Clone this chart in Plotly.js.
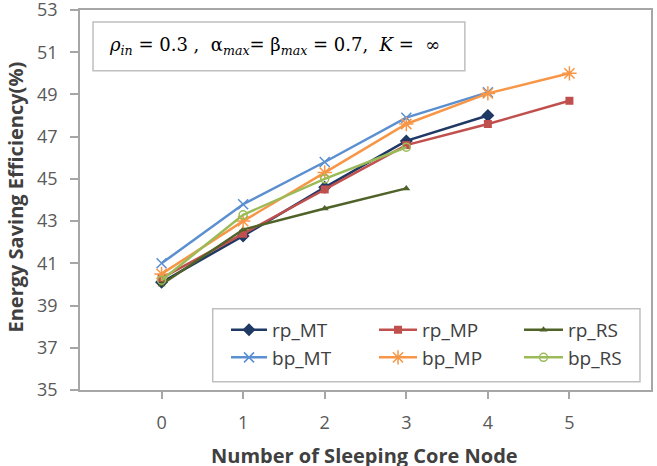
<!DOCTYPE html>
<html><head><meta charset="utf-8">
<script src="https://cdn.plot.ly/plotly-3.0.1.min.js"></script>
<style>html,body{margin:0;padding:0;background:#fff}#chart{width:657px;height:466px}</style>
</head><body><div id="chart"></div>
<script>
const nodes = [0, 1, 2, 3, 4, 5];
const rp_MT = [40.1, 42.3, 44.6, 46.8, 48.0];
const rp_MP = [40.3, 42.4, 44.5, 46.6, 47.6, 48.7];
const rp_RS = [40.0, 42.6, 43.6, 44.55];
const bp_MT = [41.0, 43.8, 45.8, 47.9, 49.1];
const bp_MP = [40.5, 43.0, 45.3, 47.6, 49.05, 50.0];
const bp_RS = [40.2, 43.3, 45.0, 46.5];
const yTicks = [35, 37, 39, 41, 43, 45, 47, 49, 51, 53];
const xTitle = 'Number of Sleeping Core Node';
const yTitle = 'Energy Saving Efficiency(%)';

function tr(name, ys, color, symbol, size, lw, leg) {
  return {
    type: 'scatter', mode: 'lines+markers', name: name, legend: leg,
    x: nodes.slice(0, ys.length), y: ys,
    line: {color: color, width: 2.5},
    marker: {symbol: symbol, size: size, color: color, line: {color: color, width: lw}}
  };
}
const data = [
  tr('rp_MT', rp_MT, '#1F3864', 'diamond', 10, 0, 'legend'),
  tr('rp_MP', rp_MP, '#C0504D', 'square', 8, 0, 'legend2'),
  tr('rp_RS', rp_RS, '#4F6228', 'triangle-up', 7, 0, 'legend3'),
  tr('bp_MT', bp_MT, '#5B8FD0', 'x-thin-open', 10, 1.5, 'legend'),
  tr('bp_MP', bp_MP, '#F79646', 'asterisk-open', 12, 1.5, 'legend2'),
  tr('bp_RS', bp_RS, '#9BBB59', 'circle-open', 8, 1.5, 'legend3')
];
function leg(x, iw) {
  return {
    orientation: 'v', x: x, y: 0.2084, xanchor: 'left', yanchor: 'top',
    borderwidth: 0, bgcolor: 'rgba(0,0,0,0)', itemwidth: iw, tracegroupgap: 0,
    font: {size: 19, color: '#404040', family: 'Open Sans, sans-serif'}
  };
}
const titleFont = {size: 20, color: '#404040', family: 'Open Sans, sans-serif', weight: 'bold'};
const layout = {
  width: 657, height: 466,
  margin: {l: 80, r: 6, t: 10, b: 76},
  paper_bgcolor: '#fff', plot_bgcolor: '#fff',
  showlegend: true,
  font: {family: 'Open Sans, sans-serif', color: '#595959'},
  xaxis: {
    range: [-1, 6], tickvals: nodes, ticktext: nodes.map(String),
    showgrid: false, zeroline: false,
    showline: true, linecolor: '#A6A6A6', linewidth: 1.5, mirror: true,
    ticks: 'outside', ticklen: 7, tickcolor: '#A6A6A6', tickwidth: 1.5,
    ticklabelstandoff: 9,
    tickfont: {size: 18, color: '#595959', family: 'Open Sans, sans-serif'}
  },
  yaxis: {
    range: [35, 53], tickvals: yTicks, ticktext: yTicks.map(String),
    showgrid: false, zeroline: false,
    showline: true, linecolor: '#A6A6A6', linewidth: 1.5, mirror: true,
    ticks: 'outside', ticklen: 8, tickcolor: '#A6A6A6', tickwidth: 1.5,
    ticklabeloverflow: 'allow', ticklabelstandoff: 9,
    tickfont: {size: 18, color: '#595959', family: 'Open Sans, sans-serif'}
  },
  legend: leg(0.2557, 36),
  legend2: leg(0.5149, 38),
  legend3: leg(0.7688, 39),
  shapes: [{
    type: 'rect', xref: 'paper', yref: 'paper',
    x0: 0.0228, x1: 0.674, y0: 0.840, y1: 0.9686,
    line: {color: '#BFBFBF', width: 1.5}, fillcolor: '#fff', layer: 'above'
  }, {
    type: 'rect', xref: 'paper', yref: 'paper',
    x0: 0.2324, x1: 0.9807, y0: 0.0217, y1: 0.2139,
    line: {color: '#BFBFBF', width: 1.5}, fillcolor: '#fff', layer: 'above'
  }],
  annotations: [{
    xref: 'paper', yref: 'paper', x: 0.0473, y: 0.906, xanchor: 'left', yanchor: 'middle',
    text: '<i>ρ</i><sub><i>in</i></sub> = 0.3 ,  α<sub><i>max</i></sub>= β<sub><i>max</i></sub> = 0.7,  <i>K</i> =  ∞',
    showarrow: false, align: 'left',
    font: {size: 18, color: '#000', family: 'DejaVu Serif, serif'}
  }, {
    xref: 'paper', yref: 'paper', x: -0.1138, y: 0.5066, xanchor: 'center', yanchor: 'middle',
    text: yTitle, textangle: -90, showarrow: false, font: titleFont
  }, {
    xref: 'paper', yref: 'paper', x: 0.4991, y: -0.132, xanchor: 'center', yanchor: 'top',
    text: xTitle, showarrow: false, font: titleFont
  }]
};
Plotly.newPlot('chart', data, layout, {displayModeBar: false});
</script>
</body></html>
